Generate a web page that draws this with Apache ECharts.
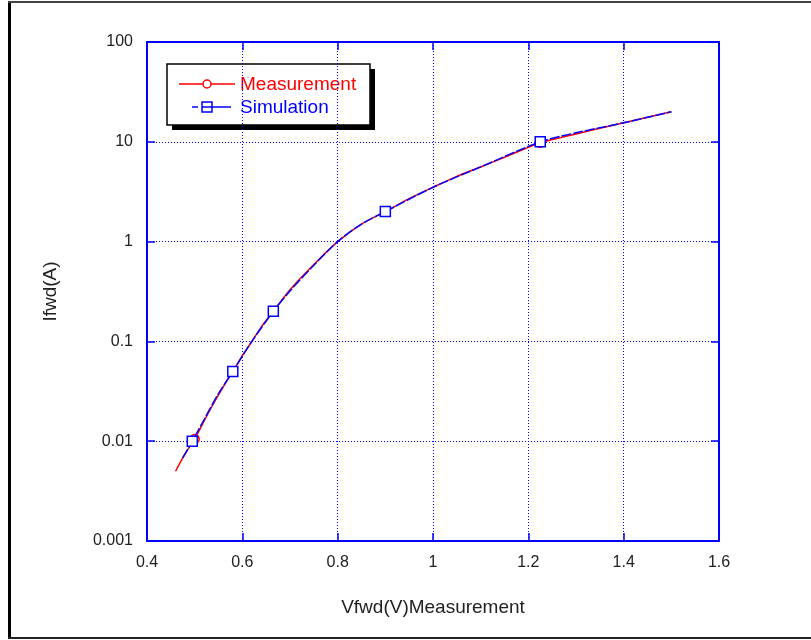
<!DOCTYPE html>
<html><head><meta charset="utf-8">
<script src="https://cdn.jsdelivr.net/npm/echarts@6/dist/echarts.min.js"></script>
<style>html,body{margin:0;padding:0;background:#fff}#c{width:811px;height:640px}</style>
</head><body><div id="c"></div>
<script>
// Measurement: forward voltage (V) vs forward current (A)
const measV = [0.46,0.48,0.5,0.52,0.54,0.56,0.58,0.6,0.62,0.64,0.665,0.7,0.75,0.8,0.85,0.9,0.95,1.0,1.05,1.1,1.15,1.2,1.225,1.3,1.4,1.5];
const measI = [0.005,0.0075,0.0105,0.016,0.024,0.035,0.05,0.072,0.1,0.14,0.2,0.33,0.59,1.0,1.5,2.0,2.7,3.5,4.5,5.6,7.0,8.8,9.8,12,15.5,20];
const measMarkerV = [0.5,0.665,1.225];
// Simulation
const simV = [0.475,0.495,0.52,0.55,0.58,0.62,0.665,0.7,0.75,0.8,0.85,0.9,1.0,1.1,1.225,1.3,1.4,1.5];
const simI = [0.0068,0.01,0.0165,0.03,0.05,0.1,0.2,0.32,0.58,1.0,1.5,2.0,3.5,5.6,10,12.3,15.5,20];
const simMarkerV = [0.495,0.58,0.665,0.9,1.225];
const xTicks = [0.4,0.6,0.8,1,1.2,1.4,1.6];
const yTicks = [0.001,0.01,0.1,1,10,100];

const RED = '#ff0000', BLUE = '#0000ff';
const FONT = 'Liberation Sans';

function build(vs, is, markers, sym, size, color) {
  return vs.map((v, k) => markers.includes(v)
    ? {value: [v, is[k]], symbol: sym, symbolSize: size, itemStyle: {color: '#fff', borderColor: color, borderWidth: 1.5}}
    : {value: [v, is[k]]});
}

const chart = echarts.init(document.getElementById('c'), null, {renderer: 'canvas'});
const axisLine = {show: true, lineStyle: {color: BLUE, width: 2}};
const lbl = {color: '#222', fontFamily: FONT, fontSize: 16};
chart.setOption({
  animation: false,
  backgroundColor: '#fff',
  grid: {left: 147, top: 42, right: 92, bottom: 99, containLabel: false},
  xAxis: [{
    type: 'value', min: xTicks[0], max: xTicks[xTicks.length-1], interval: 0.2,
    name: 'Vfwd(V)Measurement', nameLocation: 'middle', nameGap: 57,
    nameTextStyle: {color: '#222', fontFamily: FONT, fontSize: 19},
    axisLine: axisLine, axisTick: {show: true, inside: true, length: 8, lineStyle: {color: BLUE, width: 1.5}},
    axisLabel: Object.assign({margin: 14, formatter: v => String(+v.toFixed(1))}, lbl),
    splitLine: {show: true, lineStyle: {color: BLUE, type: [1, 2], width: 1}}
  }, {
    type: 'value', position: 'top', min: xTicks[0], max: xTicks[xTicks.length-1], interval: 0.2,
    axisLine: axisLine, axisTick: {show: true, inside: true, length: 8, lineStyle: {color: BLUE, width: 1.5}},
    axisLabel: {show: false}, splitLine: {show: false}
  }],
  yAxis: [{
    type: 'log', logBase: 10, min: yTicks[0], max: yTicks[yTicks.length-1],
    name: 'Ifwd(A)', nameLocation: 'middle', nameGap: 87,
    nameTextStyle: {color: '#222', fontFamily: FONT, fontSize: 19},
    axisLine: axisLine, axisTick: {show: true, inside: true, length: 8, lineStyle: {color: BLUE, width: 1.5}},
    axisLabel: Object.assign({margin: 14, formatter: v => String(+(+v).toPrecision(3))}, lbl),
    minorTick: {show: false},
    splitLine: {show: true, lineStyle: {color: BLUE, type: [1, 2], width: 1}}
  }, {
    type: 'log', logBase: 10, position: 'right', min: yTicks[0], max: yTicks[yTicks.length-1],
    axisLine: axisLine, axisTick: {show: true, inside: true, length: 8, lineStyle: {color: BLUE, width: 1.5}},
    axisLabel: {show: false}, splitLine: {show: false}
  }],
  series: [{
    name: 'Measurement', type: 'line', xAxisIndex: 0, yAxisIndex: 0,
    symbol: 'none', showSymbol: true, smooth: 0.3,
    lineStyle: {color: RED, width: 1.5}, itemStyle: {color: RED},
    data: build(measV, measI, measMarkerV, 'circle', 9, RED), z: 2
  }, {
    name: 'Simulation', type: 'line', xAxisIndex: 0, yAxisIndex: 0,
    symbol: 'none', showSymbol: true, smooth: 0.3,
    lineStyle: {color: BLUE, width: 1.5, type: [10, 2]}, itemStyle: {color: BLUE},
    data: build(simV, simI, simMarkerV, 'rect', 10, BLUE), z: 3
  }],
  graphic: [
    {type: 'line', shape: {x1: 9.5, y1: 2, x2: 9.5, y2: 639}, style: {stroke: '#000', lineWidth: 3}, silent: true},
    {type: 'line', shape: {x1: 8, y1: 2, x2: 811, y2: 2}, style: {stroke: '#444', lineWidth: 2}, silent: true},
    {type: 'line', shape: {x1: 8, y1: 638, x2: 811, y2: 638}, style: {stroke: '#222', lineWidth: 2}, silent: true},
    {type: 'group', z: 100, children: [
      {type: 'rect', shape: {x: 172, y: 69, width: 203, height: 61}, style: {fill: '#000'}},
      {type: 'rect', shape: {x: 167, y: 64, width: 203, height: 61}, style: {fill: '#fff', stroke: '#000', lineWidth: 1.5}},
      {type: 'line', shape: {x1: 179, y1: 84, x2: 235, y2: 84}, style: {stroke: RED, lineWidth: 1.5}},
      {type: 'circle', shape: {cx: 207, cy: 84, r: 4}, style: {fill: '#fff', stroke: RED, lineWidth: 1.5}},
      {type: 'text', x: 240, y: 85, style: {text: 'Measurement', fill: RED, font: '19px "Liberation Sans"', textVerticalAlign: 'middle'}},
      {type: 'line', shape: {x1: 192, y1: 107, x2: 198, y2: 107}, style: {stroke: BLUE, lineWidth: 1.5}},
      {type: 'line', shape: {x1: 212, y1: 107, x2: 231, y2: 107}, style: {stroke: BLUE, lineWidth: 1.5}},
      {type: 'rect', shape: {x: 202, y: 102, width: 10, height: 10}, style: {fill: '#fff', stroke: BLUE, lineWidth: 1.5}},
      {type: 'line', shape: {x1: 202, y1: 107, x2: 212, y2: 107}, style: {stroke: BLUE, lineWidth: 1.5}},
      {type: 'text', x: 240, y: 108, style: {text: 'Simulation', fill: BLUE, font: '19px "Liberation Sans"', textVerticalAlign: 'middle'}}
    ]}
  ]
});
</script></body></html>
